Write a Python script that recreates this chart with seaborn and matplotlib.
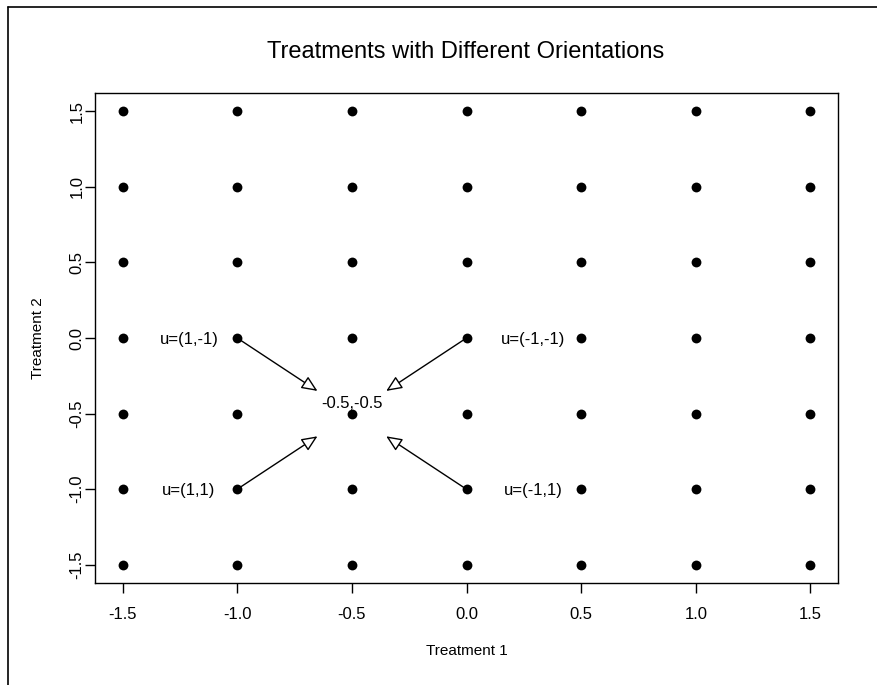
import matplotlib
matplotlib.use("Agg")
import matplotlib.pyplot as plt
from matplotlib.lines import Line2D
import numpy as np
import pandas as pd
import seaborn as sns

# ---- data ----
x_levels = [-1.5, -1.0, -0.5, 0.0, 0.5, 1.0, 1.5]
y_levels = [-1.5, -1.0, -0.5, 0.0, 0.5, 1.0, 1.5]
tick_labels = ["-1.5", "-1.0", "-0.5", "0.0", "0.5", "1.0", "1.5"]

arrow_start_x = [-1.0, 0.0, -1.0, 0.0]
arrow_start_y = [0.0, 0.0, -1.0, -1.0]
arrow_end_x = [-0.65, -0.35, -0.65, -0.35]
arrow_end_y = [-0.35, -0.35, -0.65, -0.65]

label_texts = ["u=(1,-1)", "u=(-1,-1)", "u=(1,1)", "u=(-1,1)"]
label_x = [-1.21, 0.29, -1.21, 0.29]
label_y = [-0.01, -0.01, -1.01, -1.01]

center_text = "-0.5,-0.5"
center_x = -0.5
center_y = -0.43

title = "Treatments with Different Orientations"
xlabel = "Treatment 1"
ylabel = "Treatment 2"

gx, gy = np.meshgrid(x_levels, y_levels)
df = pd.DataFrame({"t1": gx.ravel(), "t2": gy.ravel()})

# ---- style ----
sns.set_theme(style="ticks")
plt.rcParams["font.family"] = ["Liberation Sans", "DejaVu Sans"]

W, H = 877, 685
fig = plt.figure(figsize=(W / 100, H / 100), dpi=100)
ax = fig.add_axes([95 / W, 1 - 583 / H, (838 - 95) / W, (583 - 93) / H])

sns.scatterplot(data=df, x="t1", y="t2", ax=ax, color="black", s=50,
                edgecolor="black", linewidth=0, legend=False)

for sx, sy, ex, ey in zip(arrow_start_x, arrow_start_y, arrow_end_x, arrow_end_y):
    ax.annotate("", xy=(ex, ey), xytext=(sx, sy),
                arrowprops=dict(arrowstyle="-|>,head_length=0.8,head_width=0.35",
                                fc="white", ec="black", lw=1.0,
                                shrinkA=0, shrinkB=0))

for t, lx, ly in zip(label_texts, label_x, label_y):
    ax.text(lx, ly, t, ha="center", va="center", fontsize=12, color="black")
ax.text(center_x, center_y, center_text, ha="center", va="center", fontsize=12, color="black")

ax.set_xlim(-1.62, 1.62)
ax.set_ylim(-1.62, 1.62)
ax.set_xticks(x_levels)
ax.set_xticklabels(tick_labels)
ax.set_yticks(y_levels)
ax.set_yticklabels(tick_labels, rotation=90, va="center")

ax.tick_params(axis="both", direction="out", length=7.2, width=1.0, colors="black",
               labelsize=12)
ax.tick_params(axis="x", pad=10)
ax.tick_params(axis="y", pad=0.5)

for sp in ax.spines.values():
    sp.set_visible(True)
    sp.set_color("black")
    sp.set_linewidth(1.0)

ax.set_xlabel(xlabel, fontsize=11, color="black")
ax.set_ylabel(ylabel, fontsize=11, color="black")
ax.xaxis.label.set_va("baseline")
ax.xaxis.set_label_coords(0.5, (583 - 655) / (583 - 93))
ax.yaxis.set_label_coords((38 - 95) / (838 - 95), 0.5)
ax.yaxis.label.set_va("center")

fig.text(466 / W, 1 - 58 / H, title, ha="center", va="baseline", fontsize=17, color="black")

# outer frame (left and top edges visible)
fig.add_artist(Line2D([8 / W, 8 / W], [0, 1 - 7 / H], transform=fig.transFigure,
                      color="black", lw=1.2))
fig.add_artist(Line2D([8 / W, 1], [1 - 7 / H, 1 - 7 / H], transform=fig.transFigure,
                      color="black", lw=1.2))

fig.savefig("out.png", dpi=100)
